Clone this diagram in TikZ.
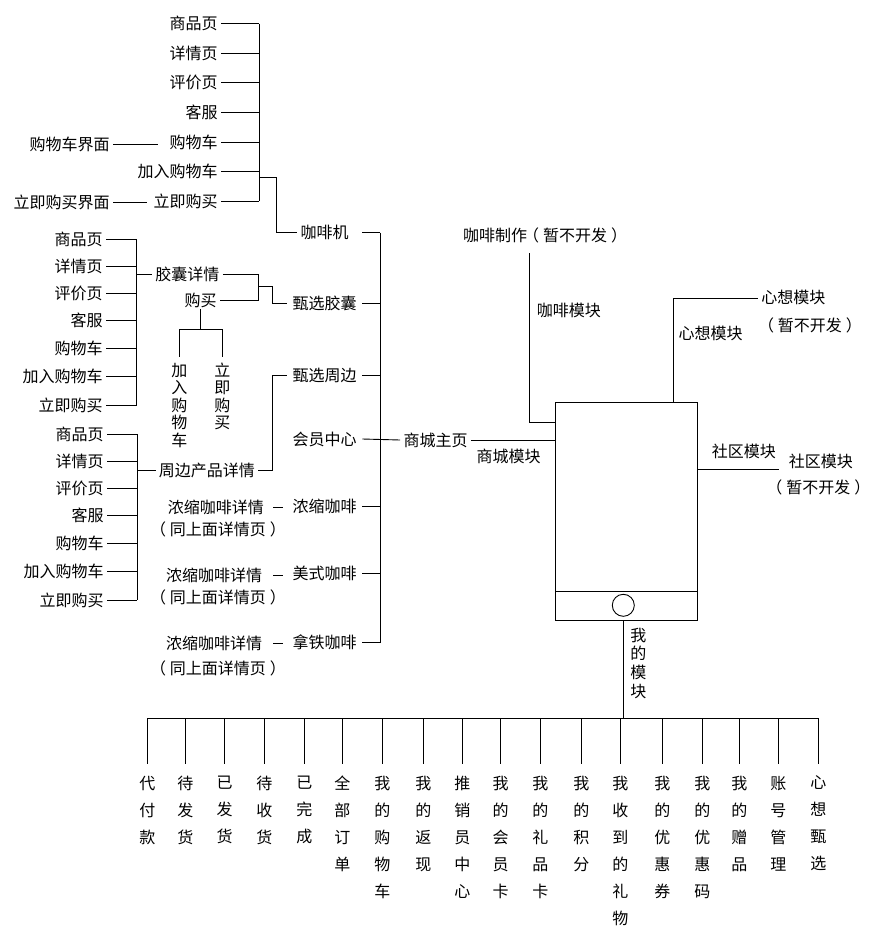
\documentclass[tikz,border=0pt]{standalone}
\usepackage{fontspec}
\newfontfamily\cjk{Noto Sans CJK SC}
\newcommand\zlp{\kern-4pt（\kern4pt}
\newcommand\zrp{\kern4pt）\kern-4pt}
\begin{document}
\begin{tikzpicture}[x=1pt,y=-1pt,line width=0.9pt,
  lbl/.style={font=\cjk\fontsize{16}{19}\selectfont, inner xsep=3pt, inner ysep=1pt},
  col/.style={lbl, minimum width=75pt, inner xsep=0pt},
  vtxt/.style={font=\cjk\fontsize{16}{#1}\selectfont, align=center, inner sep=0pt, anchor=north}]
\useasboundingbox (0,0) rectangle (874,940);
\coordinate (busA) at (259,0);
\coordinate (busB) at (136.7,0);
\coordinate (busC) at (137.3,0);
\coordinate (busM) at (380,0);
\coordinate (busy) at (0,718.3);

% ---- group A (coffee machine)
\node[lbl,anchor=east] (a1) at (221,23.5) {商品页};
\node[lbl,anchor=east] (a2) at (221,53.3) {详情页};
\node[lbl,anchor=east] (a3) at (221,82.5) {评价页};
\node[lbl,anchor=east] (a4) at (221,112.3) {客服};
\node[lbl,anchor=east] (a5) at (221,142.5) {购物车};
\node[lbl,anchor=east] (a6) at (221,171.5) {加入购物车};
\node[lbl,anchor=east] (a7) at (221,201) {立即购买};
\node[lbl,anchor=east] (a5x) at (113,144) {购物车界面};
\node[lbl,anchor=east] (a7x) at (113,202) {立即购买界面};
\foreach \n in {a1,a2,a3,a4,a5,a6,a7} \draw (\n.east) -- (\n.east -| busA);
\draw (a1.east -| busA) -- (a7.east -| busA);
\draw[shorten >=8pt] (a5x.east) -- (a5.west |- a5x.east);
\draw[shorten >=3pt] (a7x.east) -- (a7.west |- a7x.east);

% ---- right column
\node[col] (mach) at (324.5,232.5) {咖啡机};
\node[col] (caps) at (324.5,303) {甄选胶囊};
\node[col] (peri) at (324.5,375) {甄选周边};
\node[col] (vip) at (324.5,439) {会员中心};
\node[col] (espr) at (324.5,506.5) {浓缩咖啡};
\node[col] (amer) at (324.5,573.5) {美式咖啡};
\node[col] (latte) at (324.5,642.5) {拿铁咖啡};
\foreach \n in {mach,caps,peri,espr,amer,latte} \draw (\n.east) -- (\n.east -| busM);
\draw (mach.east -| busM) -- (latte.east -| busM);
\draw (259,177.3) -- (276,177.3) -- (276,232.5) -- ([xshift=10pt]mach.west);

% ---- group B (capsules)
\node[lbl,anchor=east] (b1) at (106,239.3) {商品页};
\node[lbl,anchor=east] (b2) at (106,266.7) {详情页};
\node[lbl,anchor=east] (b3) at (106,293.3) {评价页};
\node[lbl,anchor=east] (b4) at (106,320.7) {客服};
\node[lbl,anchor=east] (b5) at (106,348.3) {购物车};
\node[lbl,anchor=east] (b6) at (106,376) {加入购物车};
\node[lbl,anchor=east] (b7) at (106,405) {立即购买};
\foreach \n in {b1,b2,b3,b4,b5,b6,b7} \draw (\n.east) -- (\n.east -| busB);
\draw (b1.east -| busB) -- (b7.east -| busB);
\node[lbl,anchor=west] (capd) at (152,274.3) {胶囊详情};
\node[lbl,anchor=east] (buy) at (220,300) {购买};
\draw (capd.west -| busB) -- (capd.west);
\draw (capd.east) -| (258.3,300) -- (buy.east);
\draw (258.3,286) -- (272.7,286) -- (272.7,303) -- (caps.west);
\coordinate (bj) at (201.7,329.3);
\node[vtxt=17.5] (addv) at (179.3,362.5) {加\\入\\购\\物\\车};
\node[vtxt=17.5] (nowv) at (222.3,362.5) {立\\即\\购\\买};
\draw (buy.south) -- (buy.south |- bj);
\draw (addv.north |- bj) -- (nowv.north |- bj);
\draw (addv.north |- bj) -- ([yshift=5.8pt]addv.north);
\draw (nowv.north |- bj) -- ([yshift=5.8pt]nowv.north);

% ---- group C (peripherals)
\node[lbl,anchor=east] (c1) at (107,434.3) {商品页};
\node[lbl,anchor=east] (c2) at (107,461.7) {详情页};
\node[lbl,anchor=east] (c3) at (107,488.3) {评价页};
\node[lbl,anchor=east] (c4) at (107,515.7) {客服};
\node[lbl,anchor=east] (c5) at (107,543.3) {购物车};
\node[lbl,anchor=east] (c6) at (107,571.7) {加入购物车};
\node[lbl,anchor=east] (c7) at (107,600) {立即购买};
\foreach \n in {c1,c2,c3,c4,c5,c6,c7} \draw (\n.east) -- (\n.east -| busC);
\draw (c1.east -| busC) -- (c7.east -| busC);
\node[lbl,anchor=west] (pd) at (155.5,470) {周边产品详情};
\draw (pd.west -| busC) -- (pd.west);
\draw (pd.east) -- (272.7,470) -- (272.7,375) -- (peri.west);

% ---- coffee details
\node[lbl] (e1) at (215.8,507) {浓缩咖啡详情};
\node[lbl] (e2) at (218,529.3) {\zlp 同上面详情页\zrp};
\node[lbl] (m1) at (214.2,575) {浓缩咖啡详情};
\node[lbl] (m2) at (218,597.7) {\zlp 同上面详情页\zrp};
\node[lbl] (l1) at (214.2,643) {浓缩咖啡详情};
\node[lbl] (l2) at (218,668.3) {\zlp 同上面详情页\zrp};
\draw[shorten <=6pt, shorten >=3.7pt] (e1.east) -- (espr.west |- e1.east);
\draw[shorten <=7.5pt, shorten >=3.7pt] (m1.east) -- (amer.west |- m1.east);
\draw[shorten <=7.5pt, shorten >=3.7pt] (l1.east) -- (latte.west |- l1.east);

% ---- mall main page and phone
\node[lbl] (mall) at (435.5,440) {商城主页};
\node[lbl] (scm) at (508.7,456.7) {商城模块};
\node[draw, minimum width=142.3pt, minimum height=218.3pt, anchor=north west, inner sep=0pt] (phone) at (555,401.7) {};
\draw (phone.west |- 0,591) -- (phone.east |- 0,591);
\node[draw, circle, minimum size=22pt, inner sep=0pt] (btn) at (623.3,605.3) {};
\draw (vip.east) -- (mall.west);
\draw (mall.east) -- (phone.west |- mall.east);

% coffee module
\node[lbl] (cmk) at (543,235.7) {咖啡制作\zlp 暂不开发\zrp};
\node[lbl] (kfm) at (568.8,310.7) {咖啡模块};
\coordinate (cmtop) at (529.3,253.3);
\draw (cmtop) -- (cmtop |- 0,422.3) -- (phone.west |- 0,422.3);

% xinxiang module
\node[lbl] (xx) at (793.3,297.3) {心想模块};
\node[lbl] (xx2) at (810,325) {\zlp 暂不开发\zrp};
\node[lbl] (xl) at (710.5,333.3) {心想模块};
\coordinate (xjoin) at (673.3,298.3);
\draw (phone.north -| xjoin) -- (xjoin) -- (xjoin -| xx.west);

% community module
\node[lbl] (sql) at (743.8,451) {社区模块};
\node[lbl] (sq) at (820.8,461.7) {社区模块};
\node[lbl] (sq2) at (818.3,487.7) {\zlp 暂不开发\zrp};
\coordinate (sqend) at (779.3,469);
\draw (phone.east |- sqend) -- (sqend);

% my module
\node[vtxt=18.7] (wd) at (638.3,627.5) {我\\的\\模\\块};
\draw (btn.south |- phone.south) -- (btn.south |- busy);

% bottom items
\node[vtxt=27] (t1) at (147.3,775.5) {代\\付\\款};
\node[vtxt=27] (t2) at (185.3,775.5) {待\\发\\货};
\node[vtxt=27] (t3) at (224.7,775.5) {已\\发\\货};
\node[vtxt=27] (t4) at (264.3,775.5) {待\\收\\货};
\node[vtxt=27] (t5) at (304.3,775.5) {已\\完\\成};
\node[vtxt=27] (t6) at (342.3,775.5) {全\\部\\订\\单};
\node[vtxt=27] (t7) at (382.3,775.5) {我\\的\\购\\物\\车};
\node[vtxt=27] (t8) at (423.3,775.5) {我\\的\\返\\现};
\node[vtxt=27] (t9) at (462.3,775.5) {推\\销\\员\\中\\心};
\node[vtxt=27] (t10) at (500.7,775.5) {我\\的\\会\\员\\卡};
\node[vtxt=27] (t11) at (540.3,775.5) {我\\的\\礼\\品\\卡};
\node[vtxt=27] (t12) at (581.3,775.5) {我\\的\\积\\分};
\node[vtxt=27] (t13) at (620.3,775.5) {我\\收\\到\\的\\礼\\物};
\node[vtxt=27] (t14) at (662.3,775.5) {我\\的\\优\\惠\\券};
\node[vtxt=27] (t15) at (702.3,775.5) {我\\的\\优\\惠\\码};
\node[vtxt=27] (t16) at (739.3,775.5) {我\\的\\赠\\品};
\node[vtxt=27] (t17) at (778.3,775.5) {账\\号\\管\\理};
\node[vtxt=27] (t18) at (818.3,775.5) {心\\想\\甄\\选};
\draw (t1.north |- busy) -- (t18.north |- busy);
\foreach \n in {t1,t2,t3,t4,t5,t6,t7,t8,t9,t10,t11,t12,t13,t14,t15,t16,t17,t18}
  \draw (\n.north |- busy) -- ([yshift=11.2pt]\n.north);
\end{tikzpicture}
\end{document}
